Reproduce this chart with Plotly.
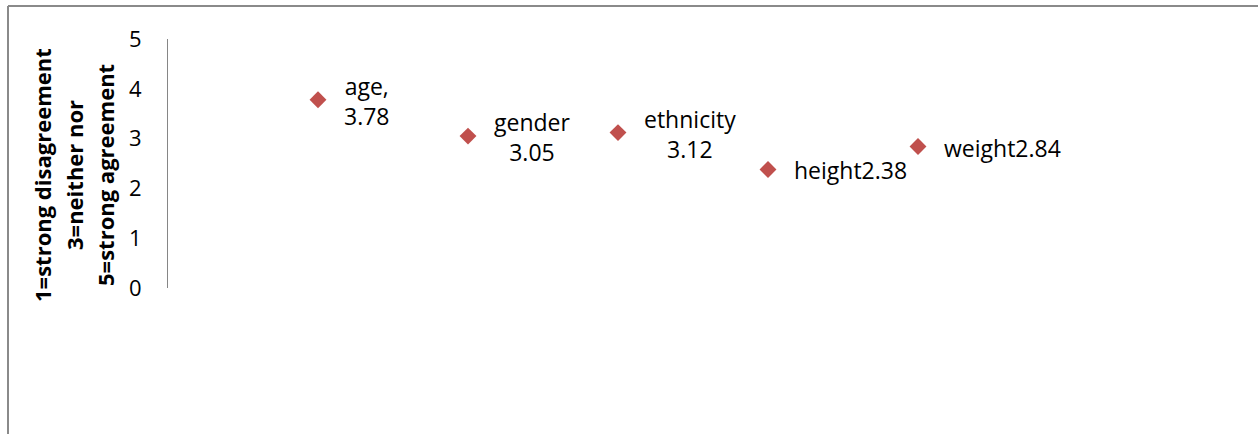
import plotly.graph_objects as go

categories = ["age", "gender", "ethnicity", "height", "weight"]
x_pos = [1, 2, 3, 4, 5]
values = [3.78, 3.05, 3.12, 2.38, 2.84]
separators = [",<br>", "<br>", "<br>", "", ""]
y_ticks = [0, 1, 2, 3, 4, 5]
y_title_lines = ["1=strong disagreement", "3=neither nor", "5=strong agreement"]

W, H = 1258, 434
ML, MR, MT, MB = 168, 40, 39, 146
PW = W - ML - MR
PH = H - MT - MB

FONT = "Open Sans"

fig = go.Figure()
fig.add_trace(go.Scatter(
    x=x_pos, y=values, mode="markers",
    marker=dict(symbol="diamond", size=13, color="#C0504D"),
    hoverinfo="skip", showlegend=False,
))

for xp, v, c, s in zip(x_pos, values, categories, separators):
    fig.add_annotation(
        x=xp, y=v, xref="x", yref="y", text=f"{c}{s}{v:.2f}",
        showarrow=False, xanchor="left", yanchor="middle", align="center",
        xshift=24, yshift=-1, font=dict(family=FONT, size=23, color="#000"),
    )

def px2paper_x(px):
    return (px - ML) / PW

def px2paper_y(py):
    return (H - MB - py) / PH

# rotated y axis title lines
for line, cx in zip(y_title_lines, [42, 74, 105]):
    fig.add_annotation(
        x=px2paper_x(cx), y=px2paper_y(175), xref="paper", yref="paper",
        text=f"<b>{line}</b>", textangle=-90, showarrow=False,
        xanchor="center", yanchor="middle",
        font=dict(family=FONT, size=22, color="#000"),
    )

# chart frame (left and top borders)
fig.add_shape(type="line", xref="paper", yref="paper",
              x0=px2paper_x(8), x1=px2paper_x(8), y0=px2paper_y(6), y1=px2paper_y(440),
              line=dict(color="#8a8a8a", width=2))
fig.add_shape(type="line", xref="paper", yref="paper",
              x0=px2paper_x(8), x1=px2paper_x(1270), y0=px2paper_y(6), y1=px2paper_y(6),
              line=dict(color="#8a8a8a", width=2))

fig.update_layout(
    width=W, height=H,
    margin=dict(l=ML, r=MR, t=MT, b=MB),
    paper_bgcolor="white", plot_bgcolor="white",
    font=dict(family=FONT, size=22, color="#000"),
    xaxis=dict(range=[0, 7], visible=False, showgrid=False, zeroline=False),
    yaxis=dict(range=[0, 5], tickvals=y_ticks, showgrid=False, zeroline=False,
               showline=True, linecolor="#868686", linewidth=1,
               ticks="", ticklabelstandoff=21,
               tickfont=dict(family=FONT, size=22, color="#000")),
)

fig.write_html("out.html")
